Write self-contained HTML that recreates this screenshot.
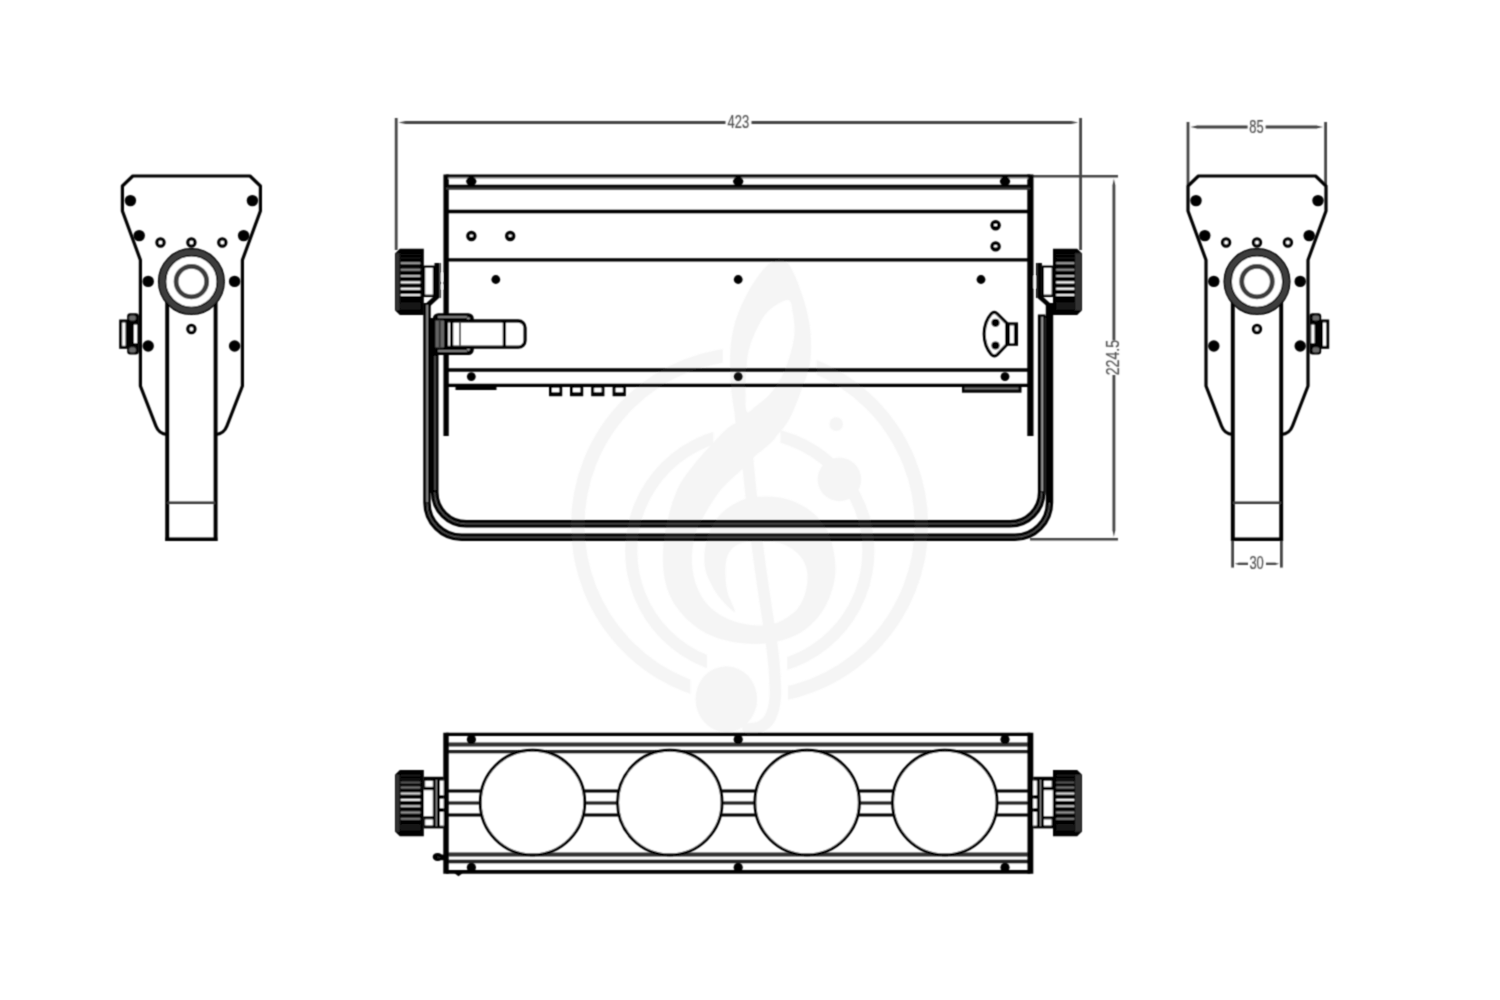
<!DOCTYPE html>
<html lang="en"><head><meta charset="utf-8"><title>Dimensions</title>
<style>html,body{margin:0;padding:0;background:#fff;overflow:hidden}body{width:1500px;height:1000px}svg{display:block}</style>
</head><body>
<svg width="1500" height="1000" viewBox="0 0 1500 1000" role="img" aria-label="Dimension drawing">
<defs><filter id="soft" x="0" y="0" width="1500" height="1000" filterUnits="userSpaceOnUse"><feConvolveMatrix order="3" kernelMatrix="0.0400 0.1200 0.0400 0.1200 0.3600 0.1200 0.0400 0.1200 0.0400" divisor="1" edgeMode="duplicate" preserveAlpha="false"/></filter></defs>
<rect width="1500" height="1000" fill="#fff"/>
<g filter="url(#soft)">
<g id="dims">
<line x1="396.2" y1="118" x2="396.2" y2="250" stroke="#444" stroke-width="2.8" stroke-linecap="butt"/>
<line x1="1080.6" y1="118" x2="1080.6" y2="250" stroke="#444" stroke-width="2.8" stroke-linecap="butt"/>
<polygon points="398.60,122.50 405.60,123.90 405.60,121.10" fill="#444"/>
<line x1="405.09999999999997" y1="122.5" x2="725.5" y2="122.5" stroke="#444" stroke-width="2.8" stroke-linecap="butt"/>
<polygon points="1078.20,122.50 1071.20,121.10 1071.20,123.90" fill="#444"/>
<line x1="751.5" y1="122.5" x2="1071.6999999999998" y2="122.5" stroke="#444" stroke-width="2.8" stroke-linecap="butt"/>
<text transform="translate(738.4,127.6) scale(0.74,1)" text-anchor="middle" font-family="'Liberation Sans', sans-serif" font-size="17.5" fill="#505050" stroke="#505050" stroke-width="0.2">423</text>
<line x1="1033" y1="176.2" x2="1118" y2="176.2" stroke="#444" stroke-width="2.4" stroke-linecap="butt"/>
<line x1="1030" y1="539.3" x2="1118" y2="539.3" stroke="#444" stroke-width="2.4" stroke-linecap="butt"/>
<polygon points="1113.90,178.60 1112.50,185.60 1115.30,185.60" fill="#444"/>
<line x1="1113.9" y1="185.1" x2="1113.9" y2="340.5" stroke="#444" stroke-width="2.8" stroke-linecap="butt"/>
<polygon points="1113.90,536.90 1115.30,529.90 1112.50,529.90" fill="#444"/>
<line x1="1113.9" y1="375" x2="1113.9" y2="530.4" stroke="#444" stroke-width="2.8" stroke-linecap="butt"/>
<text transform="translate(1119.2,357.6) rotate(-90) scale(0.81,1)" text-anchor="middle" font-family="'Liberation Sans', sans-serif" font-size="17.5" fill="#505050" stroke="#505050" stroke-width="0.2">224.5</text>
<line x1="1188" y1="122" x2="1188" y2="185" stroke="#444" stroke-width="2.8" stroke-linecap="butt"/>
<line x1="1325.6" y1="122" x2="1325.6" y2="185" stroke="#444" stroke-width="2.8" stroke-linecap="butt"/>
<polygon points="1190.40,127.00 1197.40,128.40 1197.40,125.60" fill="#444"/>
<line x1="1196.9" y1="127" x2="1247.6" y2="127" stroke="#444" stroke-width="2.8" stroke-linecap="butt"/>
<polygon points="1323.20,127.00 1316.20,125.60 1316.20,128.40" fill="#444"/>
<line x1="1265.6" y1="127" x2="1316.6999999999998" y2="127" stroke="#444" stroke-width="2.8" stroke-linecap="butt"/>
<text transform="translate(1256.4,133.0) scale(0.74,1)" text-anchor="middle" font-family="'Liberation Sans', sans-serif" font-size="17.5" fill="#505050" stroke="#505050" stroke-width="0.2">85</text>
<line x1="1232.6" y1="540" x2="1232.6" y2="567.6" stroke="#444" stroke-width="2.8" stroke-linecap="butt"/>
<line x1="1281.4" y1="540" x2="1281.4" y2="567.6" stroke="#444" stroke-width="2.8" stroke-linecap="butt"/>
<polygon points="1234.60,563.80 1239.10,564.95 1239.10,562.65" fill="#444"/>
<line x1="1238.6" y1="563.8" x2="1248" y2="563.8" stroke="#444" stroke-width="2.3" stroke-linecap="butt"/>
<polygon points="1279.40,563.80 1274.90,562.65 1274.90,564.95" fill="#444"/>
<line x1="1266" y1="563.8" x2="1275.4" y2="563.8" stroke="#444" stroke-width="2.3" stroke-linecap="butt"/>
<text transform="translate(1256.6,569.3) scale(0.74,1)" text-anchor="middle" font-family="'Liberation Sans', sans-serif" font-size="17.5" fill="#505050" stroke="#505050" stroke-width="0.2">30</text>
</g>
<g id="left">
<path d="M167.20000000000002,434.5 Q158.9,434 155.9,426 L140.4,386 L140.4,260 L122.4,211 L122.4,186 L132.8,176 L250.0,176 L260.4,186 L260.4,211 L242.4,260 L242.4,386 L226.9,426 Q223.9,434 215.6,434.5" fill="none" stroke="#000" stroke-width="3.2" stroke-linejoin="round" stroke-linecap="butt"/>
<line x1="167.20000000000002" y1="290" x2="167.20000000000002" y2="541" stroke="#000" stroke-width="3.9" stroke-linecap="butt"/>
<line x1="215.6" y1="290" x2="215.6" y2="541" stroke="#000" stroke-width="3.9" stroke-linecap="butt"/>
<line x1="165.4" y1="539.3" x2="217.4" y2="539.3" stroke="#000" stroke-width="3.6" stroke-linecap="butt"/>
<line x1="167.4" y1="502.8" x2="215.4" y2="502.8" stroke="#3a3a3a" stroke-width="2.6" stroke-linecap="butt"/>
<circle cx="191.4" cy="281.6" r="29.3" fill="#fff" stroke="#000" stroke-width="8.4"/>
<circle cx="191.4" cy="281.6" r="29.3" fill="none" stroke="#3c3c3c" stroke-width="5.6"/>
<circle cx="191.4" cy="281.6" r="15.3" fill="#fff" stroke="#3a3a3a" stroke-width="4.8"/>
<circle cx="130.4" cy="200.6" r="5.7" fill="#000"/>
<circle cx="252.4" cy="200.6" r="5.7" fill="#000"/>
<circle cx="139.2" cy="235.6" r="5.7" fill="#000"/>
<circle cx="243.60000000000002" cy="235.6" r="5.7" fill="#000"/>
<circle cx="148.2" cy="281.4" r="5.7" fill="#000"/>
<circle cx="234.60000000000002" cy="281.4" r="5.7" fill="#000"/>
<circle cx="148.2" cy="346" r="5.7" fill="#000"/>
<circle cx="234.60000000000002" cy="346" r="5.7" fill="#000"/>
<circle cx="160.5" cy="242.5" r="3.55" fill="#fff" stroke="#000" stroke-width="3.3"/>
<circle cx="191.4" cy="242.5" r="3.55" fill="#fff" stroke="#000" stroke-width="3.3"/>
<circle cx="222.3" cy="242.5" r="3.55" fill="#fff" stroke="#000" stroke-width="3.3"/>
<circle cx="191.4" cy="329" r="3.55" fill="#fff" stroke="#000" stroke-width="3.3"/>
<rect x="120.7" y="321.0" width="6.299999999999997" height="26.30000000000001" fill="#fff" stroke="#000" stroke-width="3.0"/>
<rect x="127.2" y="313.2" width="11.700000000000003" height="41.400000000000034" fill="#000" rx="3"/>
<rect x="129.2" y="315.4" width="6.600000000000023" height="5.2000000000000455" fill="#6a6a6a" rx="2"/>
<rect x="129.2" y="347.2" width="6.600000000000023" height="5.199999999999989" fill="#6a6a6a" rx="2"/>
<rect x="133.9" y="324.6" width="3.200000000000017" height="18.599999999999966" fill="#fff"/>
</g>
<g id="right">
<path d="M1232.8,434.5 Q1224.5,434 1221.5,426 L1206.0,386 L1206.0,260 L1188.0,211 L1188.0,186 L1198.4,176 L1315.6,176 L1326.0,186 L1326.0,211 L1308.0,260 L1308.0,386 L1292.5,426 Q1289.5,434 1281.2,434.5" fill="none" stroke="#000" stroke-width="3.2" stroke-linejoin="round" stroke-linecap="butt"/>
<line x1="1232.8" y1="290" x2="1232.8" y2="541" stroke="#000" stroke-width="3.9" stroke-linecap="butt"/>
<line x1="1281.2" y1="290" x2="1281.2" y2="541" stroke="#000" stroke-width="3.9" stroke-linecap="butt"/>
<line x1="1231.0" y1="539.3" x2="1283.0" y2="539.3" stroke="#000" stroke-width="3.6" stroke-linecap="butt"/>
<line x1="1233.0" y1="502.8" x2="1281.0" y2="502.8" stroke="#3a3a3a" stroke-width="2.6" stroke-linecap="butt"/>
<circle cx="1257.0" cy="281.6" r="29.3" fill="#fff" stroke="#000" stroke-width="8.4"/>
<circle cx="1257.0" cy="281.6" r="29.3" fill="none" stroke="#3c3c3c" stroke-width="5.6"/>
<circle cx="1257.0" cy="281.6" r="15.3" fill="#fff" stroke="#3a3a3a" stroke-width="4.8"/>
<circle cx="1196.0" cy="200.6" r="5.7" fill="#000"/>
<circle cx="1318.0" cy="200.6" r="5.7" fill="#000"/>
<circle cx="1204.8" cy="235.6" r="5.7" fill="#000"/>
<circle cx="1309.2" cy="235.6" r="5.7" fill="#000"/>
<circle cx="1213.8" cy="281.4" r="5.7" fill="#000"/>
<circle cx="1300.2" cy="281.4" r="5.7" fill="#000"/>
<circle cx="1213.8" cy="346" r="5.7" fill="#000"/>
<circle cx="1300.2" cy="346" r="5.7" fill="#000"/>
<circle cx="1226.1" cy="242.5" r="3.55" fill="#fff" stroke="#000" stroke-width="3.3"/>
<circle cx="1257.0" cy="242.5" r="3.55" fill="#fff" stroke="#000" stroke-width="3.3"/>
<circle cx="1287.9" cy="242.5" r="3.55" fill="#fff" stroke="#000" stroke-width="3.3"/>
<circle cx="1257.0" cy="329" r="3.55" fill="#fff" stroke="#000" stroke-width="3.3"/>
<rect x="1321.4" y="321.0" width="6.2999999999999545" height="26.30000000000001" fill="#fff" stroke="#000" stroke-width="3.0"/>
<rect x="1309.5" y="313.2" width="11.700000000000045" height="41.400000000000034" fill="#000" rx="3"/>
<rect x="1312.6" y="315.4" width="6.600000000000136" height="5.2000000000000455" fill="#6a6a6a" rx="2"/>
<rect x="1312.6" y="347.2" width="6.600000000000136" height="5.199999999999989" fill="#6a6a6a" rx="2"/>
<rect x="1311.3" y="324.6" width="3.2000000000000455" height="18.599999999999966" fill="#fff"/>
</g>
<g id="front">
<path d="M427.0,303 L427.0,502.70000000000005 A34.5,34.5 0 0 0 461.5,537.2 L1015.0,537.2 A34.5,34.5 0 0 0 1049.5,502.70000000000005 L1049.5,303" fill="none" stroke="#000" stroke-width="7.4" stroke-linejoin="round" stroke-linecap="butt"/>
<path d="M434.7,318 L434.7,492.29999999999995 A31.5,31.5 0 0 0 466.2,523.8 L1010.2,523.8 A31.5,31.5 0 0 0 1041.7,492.29999999999995 L1041.7,314.6" fill="none" stroke="#000" stroke-width="7.6" stroke-linejoin="round" stroke-linecap="butt"/>
<path d="M430.8,318 L430.8,493" fill="none" stroke="#000" stroke-width="2.0" stroke-linejoin="round" stroke-linecap="butt"/>
<path d="M1045.8,316 L1045.8,493" fill="none" stroke="#000" stroke-width="2.0" stroke-linejoin="round" stroke-linecap="butt"/>
<path d="M427.1,305 L427.1,502" fill="none" stroke="#909090" stroke-width="1.7" stroke-linejoin="round" stroke-linecap="butt"/>
<path d="M1042.2,317 L1042.2,491" fill="none" stroke="#9a9a9a" stroke-width="1.9" stroke-linejoin="round" stroke-linecap="butt"/>
<path d="M435.0,356 L435.0,490" fill="none" stroke="#484848" stroke-width="1.7" stroke-linejoin="round" stroke-linecap="butt"/>
<path d="M1045.2,318 L1045.2,495" fill="none" stroke="#333" stroke-width="1.2" stroke-linejoin="round" stroke-linecap="butt"/>
<path d="M427.0,502.70000000000005 A34.5,34.5 0 0 0 461.5,537.2 L1015.0,537.2 A34.5,34.5 0 0 0 1049.5,502.70000000000005" fill="none" stroke="#5a5a5a" stroke-width="1.2" stroke-linejoin="round" stroke-linecap="butt"/>
<path d="M434.7,492.29999999999995 A31.5,31.5 0 0 0 466.2,523.8 L1010.2,523.8 A31.5,31.5 0 0 0 1041.7,492.29999999999995" fill="none" stroke="#5a5a5a" stroke-width="1.2" stroke-linejoin="round" stroke-linecap="butt"/>
<line x1="446.1" y1="174.6" x2="446.1" y2="436" stroke="#000" stroke-width="5.3" stroke-linecap="butt"/>
<line x1="1030.4" y1="174.6" x2="1030.4" y2="436" stroke="#000" stroke-width="6.2" stroke-linecap="butt"/>
<line x1="446.1" y1="176.1" x2="1030.4" y2="176.1" stroke="#000" stroke-width="3.2" stroke-linecap="butt"/>
<line x1="446.1" y1="187.1" x2="1030.4" y2="187.1" stroke="#000" stroke-width="4.8" stroke-linecap="butt"/>
<line x1="446.1" y1="211.4" x2="1030.4" y2="211.4" stroke="#000" stroke-width="3.5" stroke-linecap="butt"/>
<line x1="446.1" y1="259.8" x2="1030.4" y2="259.8" stroke="#000" stroke-width="3.3" stroke-linecap="butt"/>
<line x1="446.1" y1="370.0" x2="1030.4" y2="370.0" stroke="#000" stroke-width="3.5" stroke-linecap="butt"/>
<line x1="446.1" y1="385.4" x2="1030.4" y2="385.4" stroke="#000" stroke-width="3.3" stroke-linecap="butt"/>
<line x1="446.1" y1="188.4" x2="1030.4" y2="188.4" stroke="#3a3a3a" stroke-width="2.0" stroke-linecap="butt"/>
<line x1="448.1" y1="178.2" x2="1028.4" y2="178.2" stroke="#aaa" stroke-width="1.2" stroke-linecap="butt"/>
<rect x="455.5" y="386" width="41" height="4" fill="#000"/>
<rect x="962" y="386" width="59.5" height="6.7" fill="#000"/>
<rect x="964.5" y="387.5" width="54" height="2.0" fill="#777"/>
<rect x="549" y="384" width="13.2" height="12.2" fill="#000"/>
<rect x="552.0" y="387.9" width="7.3" height="4.3" fill="#fff"/>
<rect x="570" y="384" width="13.2" height="12.2" fill="#000"/>
<rect x="573.0" y="387.9" width="7.3" height="4.3" fill="#fff"/>
<rect x="591.2" y="384" width="13.2" height="12.2" fill="#000"/>
<rect x="594.2" y="387.9" width="7.3" height="4.3" fill="#fff"/>
<rect x="612.6" y="384" width="13.2" height="12.2" fill="#000"/>
<rect x="615.6" y="387.9" width="7.3" height="4.3" fill="#fff"/>
<ellipse cx="471.3" cy="181.2" rx="5.1" ry="4.5" fill="#000"/>
<circle cx="471.3" cy="376.6" r="4.4" fill="#000"/>
<ellipse cx="738.2" cy="181.2" rx="5.1" ry="4.5" fill="#000"/>
<circle cx="738.2" cy="376.6" r="4.4" fill="#000"/>
<ellipse cx="1005" cy="181.2" rx="5.1" ry="4.5" fill="#000"/>
<circle cx="1005" cy="376.6" r="4.4" fill="#000"/>
<circle cx="495.8" cy="279.5" r="4.4" fill="#000"/>
<circle cx="738.2" cy="279.5" r="4.4" fill="#000"/>
<circle cx="981" cy="279.5" r="4.4" fill="#000"/>
<circle cx="471.4" cy="236" r="5.2" fill="#000"/>
<ellipse cx="471.4" cy="235.8" rx="1.7" ry="1.3" fill="#fff"/>
<circle cx="510.2" cy="236" r="5.2" fill="#000"/>
<ellipse cx="510.2" cy="235.8" rx="1.7" ry="1.3" fill="#fff"/>
<circle cx="995.6" cy="225.2" r="5.2" fill="#000"/>
<ellipse cx="995.6" cy="225.0" rx="1.7" ry="1.3" fill="#fff"/>
<circle cx="995.6" cy="246.4" r="5.2" fill="#000"/>
<ellipse cx="995.6" cy="246.20000000000002" rx="1.7" ry="1.3" fill="#fff"/>
<path d="M423.8,248.8 L399.8,248.8 L395,253.60000000000002 L395,310.2 L399.8,315 L423.8,315 Z" fill="#000"/>
<rect x="400.6" y="262.15" width="19.80000000000001" height="2.1" fill="#999"/>
<rect x="400.6" y="268.65" width="19.80000000000001" height="2.1" fill="#8c8c8c"/>
<rect x="400.6" y="274.95" width="19.80000000000001" height="2.1" fill="#b0b0b0"/>
<rect x="400.6" y="281.35" width="19.80000000000001" height="2.1" fill="#fff"/>
<rect x="400.6" y="287.65" width="19.80000000000001" height="2.1" fill="#fff"/>
<rect x="400.6" y="293.95" width="19.80000000000001" height="2.1" fill="#e0e0e0"/>
<rect x="395.8" y="253.3" width="3.8000000000000114" height="57.19999999999999" fill="#333"/>
<rect x="400.6" y="253.8" width="19.80000000000001" height="1.0" fill="#1c1c1c"/>
<rect x="400.6" y="257.3" width="19.80000000000001" height="1.0" fill="#1c1c1c"/>
<rect x="400.6" y="302.5" width="19.80000000000001" height="7" fill="#161616"/>
<path d="M1053,248.8 L1077.2,248.8 L1082,253.60000000000002 L1082,310.2 L1077.2,315 L1053,315 Z" fill="#000"/>
<rect x="1056.2" y="262.15" width="18.200000000000045" height="2.1" fill="#999"/>
<rect x="1056.2" y="268.65" width="18.200000000000045" height="2.1" fill="#8c8c8c"/>
<rect x="1056.2" y="274.95" width="18.200000000000045" height="2.1" fill="#b0b0b0"/>
<rect x="1056.2" y="281.35" width="18.200000000000045" height="2.1" fill="#fff"/>
<rect x="1056.2" y="287.65" width="18.200000000000045" height="2.1" fill="#fff"/>
<rect x="1056.2" y="293.95" width="18.200000000000045" height="2.1" fill="#e0e0e0"/>
<rect x="1075.2" y="253.3" width="6.0" height="57.19999999999999" fill="#333"/>
<rect x="1056.2" y="253.8" width="18.200000000000045" height="1.0" fill="#1c1c1c"/>
<rect x="1056.2" y="257.3" width="18.200000000000045" height="1.0" fill="#1c1c1c"/>
<rect x="1056.2" y="302.5" width="18.200000000000045" height="7" fill="#161616"/>
<rect x="424" y="266.8" width="10" height="29" fill="#fff" stroke="#000" stroke-width="2.4"/>
<path d="M436.9,263 L436.9,296.8 L428.2,304.6" fill="none" stroke="#000" stroke-width="4.8" stroke-linejoin="miter" stroke-linecap="butt"/>
<rect x="440.8" y="273.5" width="2.2" height="7.5" fill="#fff"/>
<rect x="440.8" y="285" width="2.2" height="4" fill="#fff"/>
<line x1="440.2" y1="263" x2="440.2" y2="298" stroke="#000" stroke-width="1.2" stroke-linecap="butt"/>
<rect x="1042.8" y="266.8" width="10" height="29" fill="#fff" stroke="#000" stroke-width="2.4"/>
<path d="M1039.6,263 L1039.6,296.8 L1048.4,304.6" fill="none" stroke="#000" stroke-width="4.6" stroke-linejoin="miter" stroke-linecap="butt"/>
<rect x="1033.6" y="276" width="2.6" height="12" fill="#fff"/>
<line x1="1036.6" y1="263" x2="1036.6" y2="298" stroke="#000" stroke-width="1.2" stroke-linecap="butt"/>
<rect x="432.8" y="313.2" width="41" height="41.8" fill="#000" rx="5.5"/>
<rect x="435.4" y="320.5" width="8.6" height="27" fill="#666"/>
<rect x="438.7" y="319.5" width="2.0" height="29" fill="#333"/>
<path d="M438.5,317.0 L466.5,317.0" fill="none" stroke="#a0a0a0" stroke-width="1.6" stroke-linejoin="round" stroke-linecap="round"/>
<path d="M438.5,351.0 L466.5,351.0" fill="none" stroke="#a0a0a0" stroke-width="1.6" stroke-linejoin="round" stroke-linecap="round"/>
<circle cx="468.4" cy="318.6" r="1.4" fill="#999"/>
<circle cx="468.4" cy="349.6" r="1.4" fill="#999"/>
<rect x="448.2" y="322.6" width="2.0" height="23.2" fill="#fff"/>
<path d="M451.6,321 L518.2,321 A6.8,6.8 0 0 1 525,327.8 L525,340.4 A6.8,6.8 0 0 1 518.2,347.2 L451.6,347.2 Z" fill="#fff" stroke="#000" stroke-width="3.3" stroke-linejoin="round" stroke-linecap="butt"/>
<line x1="504.4" y1="321" x2="504.4" y2="347.2" stroke="#000" stroke-width="3.3" stroke-linecap="butt"/>
<line x1="460" y1="322.5" x2="460" y2="345.7" stroke="#555" stroke-width="2.0" stroke-linecap="butt"/>
<path d="M991.4,313.8 Q994.2,311.0 997.2,313.8 L1006.6,323.2 L1006.6,344.8 L997.4,354.4 Q994.4,357.2 991.4,354.4 Q984.2,346 984.2,334 Q984.2,322 991.4,313.8 Z" fill="#fff" stroke="#000" stroke-width="3.1" stroke-linejoin="round" stroke-linecap="butt"/>
<rect x="1006.4" y="322.4" width="11.6" height="23.4" fill="#000"/>
<rect x="1010.0" y="325.4" width="3.9" height="17.8" fill="#fff"/>
<circle cx="995.5" cy="322.8" r="4.1" fill="#000"/>
<circle cx="995.5" cy="345.5" r="4.1" fill="#000"/>
</g>
<g id="bottom">
<line x1="446.0" y1="734.3" x2="1030.4" y2="734.3" stroke="#000" stroke-width="3.3" stroke-linecap="butt"/>
<line x1="446.0" y1="744.5" x2="1030.4" y2="744.5" stroke="#303030" stroke-width="4.2" stroke-linecap="butt"/>
<line x1="446.0" y1="751.6" x2="1030.4" y2="751.6" stroke="#222" stroke-width="3.4" stroke-linecap="butt"/>
<line x1="446.0" y1="854.5" x2="1030.4" y2="854.5" stroke="#303030" stroke-width="4.2" stroke-linecap="butt"/>
<line x1="446.0" y1="861.5" x2="1030.4" y2="861.5" stroke="#222" stroke-width="3.4" stroke-linecap="butt"/>
<line x1="446.0" y1="871.9" x2="1030.4" y2="871.9" stroke="#000" stroke-width="3.6" stroke-linecap="butt"/>
<line x1="446.0" y1="791.0" x2="1030.4" y2="791.0" stroke="#000" stroke-width="2.9" stroke-linecap="butt"/>
<line x1="446.0" y1="803.0" x2="1030.4" y2="803.0" stroke="#1c1c1c" stroke-width="2.9" stroke-linecap="butt"/>
<line x1="446.0" y1="815.0" x2="1030.4" y2="815.0" stroke="#000" stroke-width="2.9" stroke-linecap="butt"/>
<line x1="446.0" y1="732.7" x2="446.0" y2="873.7" stroke="#000" stroke-width="5.4" stroke-linecap="butt"/>
<line x1="1030.4" y1="732.7" x2="1030.4" y2="873.7" stroke="#000" stroke-width="5.8" stroke-linecap="butt"/>
<circle cx="532.5" cy="802.5" r="52.2" fill="#fff" stroke="#000" stroke-width="2.9"/>
<circle cx="669.8" cy="802.5" r="52.2" fill="#fff" stroke="#000" stroke-width="2.9"/>
<circle cx="807.1" cy="802.5" r="52.2" fill="#fff" stroke="#000" stroke-width="2.9"/>
<circle cx="944.8" cy="802.5" r="52.2" fill="#fff" stroke="#000" stroke-width="2.9"/>
<circle cx="471.4" cy="739.5" r="4.6" fill="#000"/>
<circle cx="471.4" cy="867.4" r="4.6" fill="#000"/>
<circle cx="738.2" cy="739.5" r="4.6" fill="#000"/>
<circle cx="738.2" cy="867.4" r="4.6" fill="#000"/>
<circle cx="1005" cy="739.5" r="4.6" fill="#000"/>
<circle cx="1005" cy="867.4" r="4.6" fill="#000"/>
<ellipse cx="437.6" cy="856.9" rx="4.9" ry="4.0" fill="#000"/>
<rect x="438" y="854.6" width="6" height="5.6" fill="#000"/>
<ellipse cx="438.4" cy="857.2" rx="1.8" ry="0.7" fill="#2c2c2c" transform="rotate(18 438.4 857.2)"/>
<polygon points="453.5,872.5 463.5,872.5 458.5,876.2" fill="#000"/>
<path d="M423.8,770 L399.8,770 L395,774.8 L395,831.4000000000001 L399.8,836.2 L423.8,836.2 Z" fill="#000"/>
<rect x="400.6" y="781.45" width="19.80000000000001" height="2.1" fill="#555"/>
<rect x="400.6" y="786.45" width="19.80000000000001" height="2.1" fill="#777"/>
<rect x="400.6" y="792.45" width="19.80000000000001" height="2.1" fill="#ddd"/>
<rect x="400.6" y="798.75" width="19.80000000000001" height="2.1" fill="#f4f4f4"/>
<rect x="400.6" y="805.1500000000001" width="19.80000000000001" height="2.1" fill="#bbb"/>
<rect x="400.6" y="811.45" width="19.80000000000001" height="2.1" fill="#999"/>
<rect x="400.6" y="817.75" width="19.80000000000001" height="2.1" fill="#777"/>
<rect x="395.8" y="774.5" width="3.8000000000000114" height="57.200000000000045" fill="#333"/>
<rect x="400.6" y="775.0" width="19.80000000000001" height="1.0" fill="#1c1c1c"/>
<rect x="400.6" y="778.5" width="19.80000000000001" height="1.0" fill="#1c1c1c"/>
<rect x="400.6" y="823.7" width="19.80000000000001" height="7" fill="#161616"/>
<path d="M1053,770 L1077.2,770 L1082,774.8 L1082,831.4000000000001 L1077.2,836.2 L1053,836.2 Z" fill="#000"/>
<rect x="1056.2" y="781.45" width="18.200000000000045" height="2.1" fill="#555"/>
<rect x="1056.2" y="786.45" width="18.200000000000045" height="2.1" fill="#777"/>
<rect x="1056.2" y="792.45" width="18.200000000000045" height="2.1" fill="#ddd"/>
<rect x="1056.2" y="798.75" width="18.200000000000045" height="2.1" fill="#f4f4f4"/>
<rect x="1056.2" y="805.1500000000001" width="18.200000000000045" height="2.1" fill="#bbb"/>
<rect x="1056.2" y="811.45" width="18.200000000000045" height="2.1" fill="#999"/>
<rect x="1056.2" y="817.75" width="18.200000000000045" height="2.1" fill="#777"/>
<rect x="1075.2" y="774.5" width="6.0" height="57.200000000000045" fill="#333"/>
<rect x="1056.2" y="775.0" width="18.200000000000045" height="1.0" fill="#1c1c1c"/>
<rect x="1056.2" y="778.5" width="18.200000000000045" height="1.0" fill="#1c1c1c"/>
<rect x="1056.2" y="823.7" width="18.200000000000045" height="7" fill="#161616"/>
<rect x="423.6" y="776.8" width="20.0" height="51.60000000000002" fill="#000"/>
<rect x="425.20000000000005" y="780.8" width="7.599999999999966" height="6.0" fill="#fff"/>
<rect x="424.0" y="790.2" width="8.800000000000011" height="26.0" fill="#fff"/>
<rect x="425.20000000000005" y="819.4" width="7.599999999999966" height="6.0" fill="#fff"/>
<rect x="435.6" y="780" width="1.3999999999999773" height="46" fill="#888"/>
<rect x="440.0" y="780.6" width="3.6000000000000227" height="14.399999999999977" fill="#fff"/>
<rect x="440.0" y="798.8" width="3.6000000000000227" height="9.200000000000045" fill="#fff"/>
<rect x="440.0" y="812" width="3.6000000000000227" height="13.600000000000023" fill="#fff"/>
<rect x="1033.2" y="776.8" width="20.0" height="51.60000000000002" fill="#000"/>
<rect x="1044.0" y="780.8" width="7.600000000000136" height="6.0" fill="#fff"/>
<rect x="1044.0" y="790.2" width="8.799999999999955" height="26.0" fill="#fff"/>
<rect x="1044.0" y="819.4" width="7.600000000000136" height="6.0" fill="#fff"/>
<rect x="1039.8" y="780" width="1.400000000000091" height="46" fill="#888"/>
<rect x="1033.2" y="780.6" width="3.599999999999909" height="14.399999999999977" fill="#fff"/>
<rect x="1033.2" y="798.8" width="3.599999999999909" height="9.200000000000045" fill="#fff"/>
<rect x="1033.2" y="812" width="3.599999999999909" height="13.600000000000023" fill="#fff"/>
</g>
<g id="wm" opacity="0.08" fill="#868686" stroke="none">
<clipPath id="wmo"><rect x="500" y="300" width="222.8" height="225.5"/><rect x="816.6" y="300" width="200" height="225.5"/><rect x="500" y="525.5" width="190.4" height="250"/><rect x="788" y="525.5" width="230" height="250"/></clipPath>
<clipPath id="wmi"><rect x="600" y="400" width="113.4" height="151"/><rect x="780.4" y="400" width="150" height="151"/><rect x="600" y="551" width="107" height="200"/><rect x="787.2" y="551" width="150" height="200"/></clipPath>
<circle cx="749.6" cy="525.5" r="171.8" fill="none" stroke="#868686" stroke-width="13.6" clip-path="url(#wmo)"/>
<circle cx="749.8" cy="551.0" r="118.6" fill="none" stroke="#868686" stroke-width="12.2" clip-path="url(#wmi)"/>
<circle cx="839.4" cy="479.4" r="21.8"/>
<circle cx="836.2" cy="424.1" r="6.8"/>
<ellipse cx="726.3" cy="699.2" rx="30.8" ry="33"/>
<path fill-rule="evenodd" d="M780.5,259.5 C783.5,260.2 786.5,260.6 790.0,266.0 C793.5,271.4 798.2,283.5 801.2,292.0 C804.2,300.5 806.6,308.8 808.2,317.0 C809.8,325.2 810.8,332.8 811.0,341.0 C811.2,349.2 811.2,357.8 809.6,366.0 C808.0,374.2 804.8,381.3 801.5,390.0 C798.2,398.7 794.2,410.2 790.0,418.0 C785.8,425.8 781.3,430.7 776.0,436.5 C770.7,442.3 762.7,451.1 758.0,453.0 C753.3,454.9 751.3,450.8 748.0,448.0 C744.7,445.2 740.3,442.2 738.0,436.0 C735.7,429.8 735.3,418.7 734.2,411.0 C733.1,403.3 731.9,397.5 731.2,390.0 C730.5,382.5 730.0,374.2 730.0,366.0 C730.0,357.8 730.1,349.2 731.2,341.0 C732.3,332.8 734.0,325.2 736.8,317.0 C739.6,308.8 743.8,299.7 748.0,292.0 C752.2,284.3 758.0,276.0 762.0,271.0 C766.0,266.0 768.9,263.9 772.0,262.0 C775.1,260.1 777.5,258.8 780.5,259.5 Z M787.9,300.0 C791.9,300.4 791.7,307.3 792.8,313.0 C793.9,318.7 794.9,327.0 794.4,334.0 C793.9,341.0 792.1,348.0 790.0,355.0 C787.9,362.0 785.3,369.5 782.0,376.0 C778.7,382.5 774.3,389.0 770.0,394.0 C765.7,399.0 759.9,403.1 756.0,406.0 C752.1,408.9 748.5,414.2 746.8,411.5 C745.1,408.8 745.6,397.6 745.6,390.0 C745.6,382.4 746.0,373.0 746.6,366.0 C747.2,359.0 747.5,354.5 749.4,348.0 C751.3,341.5 754.5,333.2 757.8,327.0 C761.1,320.8 764.0,315.0 769.0,310.5 C774.0,306.0 783.9,299.6 787.9,300.0 Z"/>
<path d="M735.4,423.6 C727.6,425.8 720.2,435.8 713.0,443.0 C705.8,450.2 697.8,459.5 692.0,467.0 C686.2,474.5 681.9,479.8 678.0,488.0 C674.1,496.2 670.9,506.5 668.5,516.0 C666.1,525.5 664.1,535.2 663.4,545.0 C662.6,554.8 662.6,565.8 664.0,575.0 C665.4,584.2 667.7,592.2 672.0,600.0 C676.3,607.8 683.3,616.0 690.0,622.0 C696.7,628.0 703.7,632.5 712.0,636.0 C720.3,639.5 730.3,641.8 740.0,643.0 C749.7,644.2 760.0,644.7 770.0,643.0 C780.0,641.3 791.3,638.2 800.0,633.0 C808.7,627.8 816.4,620.0 822.0,612.0 C827.6,604.0 831.3,593.7 833.5,585.0 C835.7,576.3 835.9,568.8 835.0,560.0 C834.1,551.2 831.8,540.0 828.0,532.0 C824.2,524.0 818.3,517.3 812.0,512.0 C805.7,506.7 797.5,502.6 790.0,500.0 C782.5,497.4 774.5,496.7 767.0,496.5 C759.5,496.3 752.0,496.8 745.0,499.0 C738.0,501.2 730.5,505.5 725.0,510.0 C719.5,514.5 715.2,520.2 712.0,526.0 C708.8,531.8 706.7,538.5 705.5,545.0 C704.3,551.5 703.9,559.0 704.6,565.0 C705.3,571.0 706.9,575.5 709.5,581.0 C712.1,586.5 715.8,592.9 720.0,598.0 C724.2,603.1 733.5,612.7 734.8,611.7 C736.0,610.7 729.1,598.6 727.5,592.0 C725.9,585.4 725.4,578.0 725.4,572.0 C725.4,566.0 725.7,560.4 727.5,556.0 C729.3,551.6 732.2,548.0 736.0,545.5 C739.8,543.0 745.0,542.0 750.0,541.2 C755.0,540.4 760.2,540.2 766.0,540.8 C771.8,541.4 779.3,542.5 785.0,545.0 C790.7,547.5 796.3,551.7 800.0,556.0 C803.7,560.3 806.0,565.3 807.0,571.0 C808.0,576.7 807.5,583.8 806.0,590.0 C804.5,596.2 802.0,602.9 798.0,608.0 C794.0,613.1 787.5,617.6 782.0,620.5 C776.5,623.4 771.2,624.8 765.0,625.4 C758.8,626.0 751.7,625.3 745.0,624.0 C738.3,622.7 731.2,620.7 725.0,617.5 C718.8,614.3 712.7,610.1 708.0,605.0 C703.3,599.9 699.7,593.8 697.0,587.0 C694.3,580.2 692.5,571.8 692.0,564.0 C691.5,556.2 692.4,547.3 694.0,540.0 C695.6,532.7 697.5,528.2 701.8,520.0 C706.1,511.8 713.4,499.4 720.0,491.0 C726.6,482.6 736.0,475.5 741.7,469.8 C747.4,464.1 748.3,462.6 754.0,457.0 C759.7,451.4 775.0,441.0 776.0,436.5 C777.0,432.0 766.8,432.1 760.0,430.0 C753.2,427.9 743.2,421.4 735.4,423.6 Z"/>
<path d="M747.2,455.0 C747.9,462.2 749.4,479.8 751.5,498.0 C753.6,516.2 757.3,545.3 759.8,564.0 C762.3,582.7 764.6,597.0 766.5,610.0 C768.4,623.0 770.1,632.0 771.4,642.0 C772.7,652.0 773.8,660.7 774.4,670.0 C775.0,679.3 775.9,690.0 775.2,698.0 C774.5,706.0 772.5,713.2 770.0,718.0 C767.5,722.8 763.7,725.2 760.0,727.0 C756.3,728.8 750.0,728.7 748.0,729.0" fill="none" stroke="#868686" stroke-width="11.6" stroke-linecap="round"/>
</g>
</g>
</svg></body></html>
